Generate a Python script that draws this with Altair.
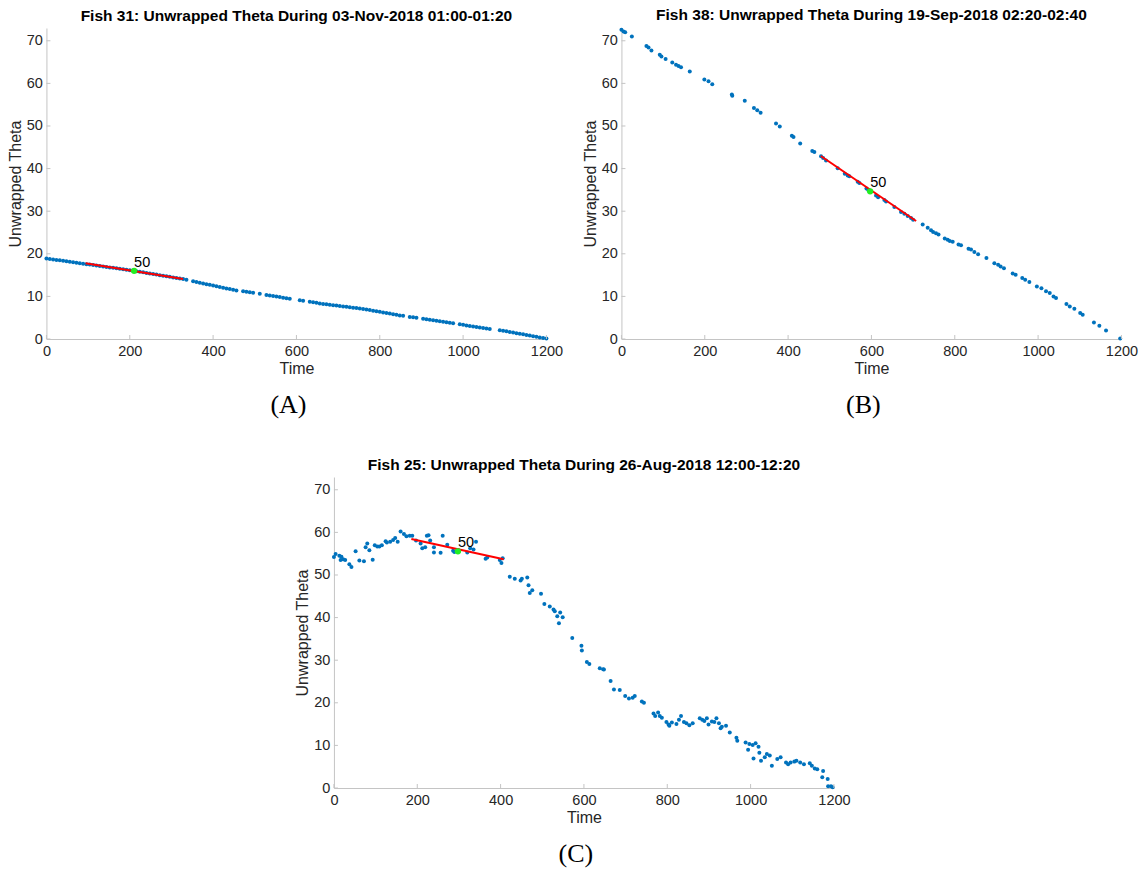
import altair as alt
import pandas as pd

# ---- shared axis ticks ----
TIME_TICKS = [0, 200, 400, 600, 800, 1000, 1200]
THETA_TICKS = [0, 10, 20, 30, 40, 50, 60, 70]

# ---- Fish 31 ----
a_time = [0, 8, 16, 24, 32, 40, 48, 56, 64, 72, 80, 88, 96, 104, 112, 120, 128, 136, 144, 152,
          160, 168, 176, 184, 192, 200, 208, 216, 224, 232, 240, 248, 256, 264, 272, 280, 288, 296,
          304, 312, 320, 328, 336, 352, 360, 368, 376, 384, 392, 400, 408, 416, 424, 432, 440, 448,
          456, 472, 480, 488, 496, 512, 528, 536, 544, 552, 560, 568, 576, 584, 608, 616, 632, 640,
          648, 656, 664, 672, 680, 688, 696, 704, 712, 720, 728, 736, 744, 752, 760, 768, 776, 784,
          792, 800, 808, 816, 824, 832, 840, 848, 856, 872, 880, 888, 904, 912, 920, 928, 936, 944,
          952, 960, 968, 976, 992, 1000, 1008, 1016, 1024, 1032, 1040, 1048, 1056, 1064, 1088, 1096,
          1104, 1112, 1120, 1128, 1136, 1144, 1152, 1160, 1168, 1176, 1184, 1192, 1200]
a_theta = [18.90, 18.79, 18.68, 18.57, 18.46, 18.35, 18.24, 18.13, 18.01, 17.90, 17.79, 17.68, 17.57,
           17.46, 17.35, 17.24, 17.13, 17.03, 16.92, 16.81, 16.70, 16.59, 16.48, 16.37, 16.26, 16.15,
           16.04, 15.92, 15.79, 15.65, 15.52, 15.39, 15.26, 15.12, 14.99, 14.86, 14.73, 14.60, 14.46,
           14.33, 14.20, 14.06, 13.89, 13.55, 13.38, 13.22, 13.05, 12.88, 12.71, 12.54, 12.38, 12.21,
           12.04, 11.88, 11.71, 11.54, 11.41, 11.19, 11.07, 10.96, 10.84, 10.60, 10.35, 10.22, 10.09,
           9.97, 9.84, 9.71, 9.58, 9.46, 9.09, 8.97, 8.72, 8.60, 8.48, 8.35, 8.23, 8.13, 8.03, 7.94,
           7.84, 7.74, 7.65, 7.55, 7.46, 7.36, 7.27, 7.17, 7.07, 6.94, 6.80, 6.66, 6.52, 6.38, 6.24,
           6.10, 5.96, 5.82, 5.68, 5.54, 5.43, 5.19, 5.08, 4.97, 4.74, 4.63, 4.52, 4.40, 4.29, 4.18,
           4.06, 3.93, 3.81, 3.69, 3.44, 3.32, 3.19, 3.07, 2.94, 2.82, 2.69, 2.57, 2.44, 2.33, 2.07,
           1.93, 1.79, 1.65, 1.51, 1.37, 1.23, 1.09, 0.95, 0.81, 0.67, 0.52, 0.38, 0.24, 0.10]
a_fit_time = [94, 328]
a_fit_theta = [17.8, 14.1]
a_mid_time = [210.4]
a_mid_theta = [16.0]

# ---- Fish 38 ----
b_time = [0, 5, 9, 25, 60, 65, 72, 92, 96, 106, 122, 131, 137, 143, 164, 199, 209, 218, 265, 266,
          296, 318, 326, 334, 371, 380, 409, 413, 429, 458, 463, 479, 484, 491, 519, 536, 543, 547,
          567, 571, 588, 593, 611, 616, 631, 635, 655, 671, 679, 687, 695, 700, 723, 735, 743, 748,
          755, 761, 776, 783, 788, 795, 809, 815, 833, 839, 847, 856, 876, 895, 904, 910, 918, 939,
          946, 962, 969, 979, 997, 1008, 1019, 1028, 1037, 1043, 1068, 1076, 1087, 1101, 1107, 1134,
          1147, 1163, 1197]
b_theta = [72.6, 72.2, 72.0, 71.0, 68.8, 68.4, 67.7, 66.7, 66.3, 65.7, 64.9, 64.4, 64.1, 63.8, 62.8,
           60.9, 60.5, 59.8, 57.4, 57.1, 55.9, 54.2, 53.7, 53.1, 50.6, 49.9, 47.7, 47.4, 45.9, 44.1,
           43.9, 42.9, 42.5, 41.9, 40.1, 38.8, 38.4, 38.2, 36.9, 36.6, 35.3, 34.9, 33.7, 33.3, 32.6,
           32.3, 31.0, 29.8, 29.4, 28.9, 28.4, 28.0, 26.9, 26.1, 25.5, 25.1, 24.8, 24.5, 23.6, 23.3,
           23.0, 22.8, 22.2, 22.0, 21.2, 21.0, 20.4, 19.9, 19.0, 17.8, 17.4, 17.0, 16.6, 15.4, 15.1,
           14.3, 13.9, 13.4, 12.3, 11.9, 11.2, 10.8, 10.0, 9.6, 8.2, 7.6, 7.1, 6.1, 5.7, 3.9, 3.1,
           2.0, 0.1]
b_fit_time = [478.5, 707.3]
b_fit_theta = [42.96, 27.7]
b_mid_time = [596.9]
b_mid_theta = [34.67]

# ---- Fish 25 ----
c_time = [0, 4, 13, 16, 18, 22, 27, 37, 42, 52, 61, 72, 76, 80, 85, 93, 98, 104, 109, 115, 124,
          127, 135, 142, 147, 153, 160, 168, 174, 182, 188, 197, 208, 212, 219, 223, 227, 231, 240,
          240, 256, 261, 272, 286, 289, 299, 320, 327, 335, 341, 364, 368, 398, 402, 405, 422, 434,
          448, 451, 464, 467, 470, 476, 497, 505, 518, 527, 530, 536, 540, 543, 549, 572, 594, 595,
          607, 613, 638, 646, 648, 664, 672, 686, 699, 708, 717, 722, 739, 744, 767, 771, 778, 782,
          787, 798, 803, 805, 811, 822, 828, 833, 840, 846, 853, 861, 878, 884, 889, 895, 899, 907,
          913, 918, 924, 928, 931, 941, 950, 966, 968, 988, 994, 997, 1005, 1007, 1012, 1019, 1021,
          1025, 1034, 1039, 1046, 1051, 1064, 1072, 1085, 1090, 1096, 1105, 1110, 1119, 1128, 1142,
          1147, 1154, 1160, 1174, 1172, 1185, 1186, 1193, 1197]
c_theta = [54.2, 54.9, 54.5, 53.5, 54.3, 53.7, 53.5, 52.5, 51.9, 55.6, 53.4, 53.2, 56.5, 57.4, 55.8,
           53.6, 57.0, 56.7, 56.7, 57.0, 57.9, 57.6, 57.8, 58.2, 58.7, 57.8, 60.2, 59.6, 59.1, 59.2,
           59.2, 58.1, 57.4, 56.3, 56.5, 59.2, 59.3, 58.1, 56.5, 55.3, 55.2, 59.2, 57.1, 55.7, 55.4,
           55.8, 55.3, 56.3, 56.0, 57.8, 53.8, 54.1, 53.5, 52.8, 53.9, 49.6, 49.1, 48.7, 49.1, 49.4,
           47.6, 45.8, 46.4, 45.6, 43.2, 42.6, 41.9, 41.5, 40.3, 38.7, 41.2, 40.1, 35.2, 33.4, 32.3,
           29.6, 29.1, 28.1, 27.9, 27.8, 25.1, 23.1, 23.0, 21.6, 21.0, 21.2, 21.6, 20.3, 20.0, 17.5,
           16.9, 17.7, 16.9, 16.5, 15.5, 14.9, 14.6, 15.4, 15.0, 16.0, 16.9, 15.5, 15.2, 14.7, 15.2,
           16.4, 16.0, 15.7, 16.4, 14.9, 15.6, 15.5, 16.4, 15.2, 14.0, 14.4, 14.6, 13.0, 11.8, 11.1,
           10.7, 9.0, 10.3, 10.1, 6.9, 10.5, 9.7, 8.3, 6.4, 7.2, 8.0, 7.6, 5.2, 6.8, 7.2, 6.0, 5.6,
           6.0, 6.2, 6.4, 6.0, 5.6, 5.8, 5.2, 4.6, 4.4, 4.0, 2.5, 2.1, 0.4, 0.4, 0.2]
c_fit_time = [185.8, 407.3]
c_fit_theta = [58.44, 53.69]
c_mid_time = [297.6]
c_mid_theta = [55.56]

W, H = 500, 311
BLUE = "#0072BD"
AXIS_GRAY = "#c4c4c4"
SANS = "Liberation Sans"

x_scale = alt.Scale(domain=[0, 1200], nice=False, zero=False)
y_scale = alt.Scale(domain=[0, 73], nice=False, zero=False)


def xenc():
    return alt.X("t:Q", scale=x_scale, title="Time")


def yenc():
    return alt.Y("v:Q", scale=y_scale, title="Unwrapped Theta")


def panel(time, theta, fit_t, fit_v, mid_t, mid_v, title, caption):
    pts = pd.DataFrame({"t": time, "v": theta})
    fit = pd.DataFrame({"t": fit_t, "v": fit_v})
    mid = pd.DataFrame({"t": mid_t, "v": mid_v, "lab": ["50"]})

    points = alt.Chart(pts).mark_circle(size=16, color=BLUE, opacity=1).encode(
        x=alt.X("t:Q", scale=x_scale,
                axis=alt.Axis(values=TIME_TICKS, title="Time", format="d", labelFlush=False,
                              labelOverlap=False, labelPadding=5, titlePadding=3)),
        y=alt.Y("v:Q", scale=y_scale,
                axis=alt.Axis(values=THETA_TICKS, title="Unwrapped Theta", format="d",
                              labelOverlap=False, labelPadding=4, titlePadding=3)),
    )
    line = alt.Chart(fit).mark_line(color="#ff0000", strokeWidth=2).encode(x=xenc(), y=yenc())
    dot = alt.Chart(mid).mark_circle(size=40, color="#22ee22", opacity=1).encode(x=xenc(), y=yenc())
    label = alt.Chart(mid).mark_text(
        align="left", baseline="alphabetic", dy=-4, fontSize=14.5, font=SANS, color="black"
    ).encode(x=xenc(), y=yenc(), text="lab:N")
    # inward tick marks along both axes
    xt = alt.Chart(pd.DataFrame({"t": TIME_TICKS})).mark_rule(color=AXIS_GRAY, strokeWidth=1).encode(
        x=xenc(), y=alt.value(H), y2=alt.value(H - 4)
    )
    yt = alt.Chart(pd.DataFrame({"v": THETA_TICKS})).mark_rule(color=AXIS_GRAY, strokeWidth=1).encode(
        y=yenc(), x=alt.value(0), x2=alt.value(4)
    )
    cap = alt.Chart(pd.DataFrame({"c": [caption]})).mark_text(
        font="Liberation Serif", fontSize=26, baseline="middle", align="center", color="black"
    ).encode(x=alt.value(242), y=alt.value(377), text="c:N")

    return alt.layer(points, xt, yt, line, dot, label, cap).properties(
        width=W, height=H,
        title=alt.TitleParams(text=title, fontSize=15.5, fontWeight="bold", font=SANS,
                              color="black", anchor="middle", baseline="alphabetic", offset=-8),
    )


pa = panel(a_time, a_theta, a_fit_time, a_fit_theta, a_mid_time, a_mid_theta,
           "Fish 31: Unwrapped Theta During 03-Nov-2018 01:00-01:20", "(A)")
pb = panel(b_time, b_theta, b_fit_time, b_fit_theta, b_mid_time, b_mid_theta,
           "Fish 38: Unwrapped Theta During 19-Sep-2018 02:20-02:40", "(B)")
pc = panel(c_time, c_theta, c_fit_time, c_fit_theta, c_mid_time, c_mid_theta,
           "Fish 25: Unwrapped Theta During 26-Aug-2018 12:00-12:20", "(C)")

top = alt.hconcat(pa, pb, spacing=75, bounds="flush")
chart = alt.vconcat(top, pc, spacing=39, center=True).properties(
    padding={"left": 7, "top": 8, "right": 2, "bottom": 2}
).configure_view(stroke=None).configure_axis(
    domainColor=AXIS_GRAY, domainWidth=1, ticks=False, grid=False,
    labelFont=SANS, labelFontSize=14.5, labelColor="#262626",
    titleFont=SANS, titleFontSize=16, titleFontWeight="normal", titleColor="#262626",
)

chart.save("out.html", embed_options={"renderer": "svg", "actions": False})
